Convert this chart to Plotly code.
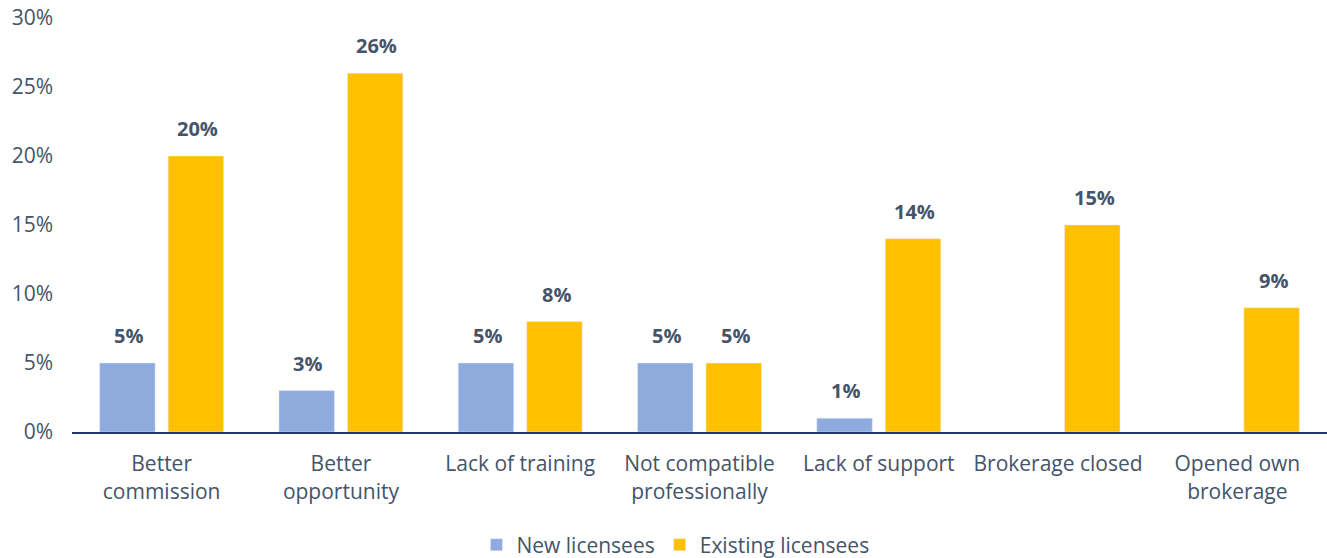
import plotly.graph_objects as go

categories = ["Better<br>commission", "Better<br>opportunity", "Lack of training",
              "Not compatible<br>professionally", "Lack of support", "Brokerage closed",
              "Opened own<br>brokerage"]
new_licensees = [5, 3, 5, 5, 1, None, None]
existing_licensees = [20, 26, 8, 5, 14, 15, 9]
series_names = ["New licensees", "Existing licensees"]
colors = ["#8FAADC", "#FFC000"]
text_color = "#44546A"
font_family = "Open Sans, Segoe UI, sans-serif"

fig = go.Figure()
fig.add_trace(go.Bar(x=categories, y=new_licensees, name=series_names[0],
                     marker_color=colors[0]))
fig.add_trace(go.Bar(x=categories, y=existing_licensees, name=series_names[1],
                     marker_color=colors[1]))

annotations = []
for vals, shift in [(new_licensees, -33), (existing_licensees, 36)]:
    for c, v in zip(categories, vals):
        if v is None:
            continue
        annotations.append(dict(x=c, y=v, xref="x", yref="y", text=f"<b>{v}%</b>",
                                showarrow=False, yanchor="bottom", xshift=shift, yshift=12,
                                font=dict(size=20, color=text_color, family=font_family)))

fig.update_layout(
    width=1327, height=558,
    margin=dict(l=72, r=0, t=18, b=126, autoexpand=False),
    plot_bgcolor="white", paper_bgcolor="white",
    barmode="group", bargap=0.236, bargroupgap=0.19,
    font=dict(family=font_family, size=21, color=text_color),
    annotations=annotations,
    legend=dict(orientation="h", xref="container", x=0.509, xanchor="center",
                yref="container", y=1 - 545 / 558, yanchor="middle",
                font=dict(size=21, color=text_color), itemwidth=30),
    showlegend=True,
)
fig.update_xaxes(showline=True, linecolor="#1F3864", linewidth=2, ticks="",
                 tickfont=dict(size=21, color=text_color), showgrid=False,
                 automargin=False, ticklabelstandoff=12)
fig.update_yaxes(range=[0, 30], dtick=5, ticksuffix="%", showgrid=False, zeroline=False,
                 showline=False, tickfont=dict(size=21, color=text_color),
                 ticklabelstandoff=18, automargin=False)

fig.write_html("out.html", config={"displayModeBar": False},
               post_script="document.body.style.margin='0';")
